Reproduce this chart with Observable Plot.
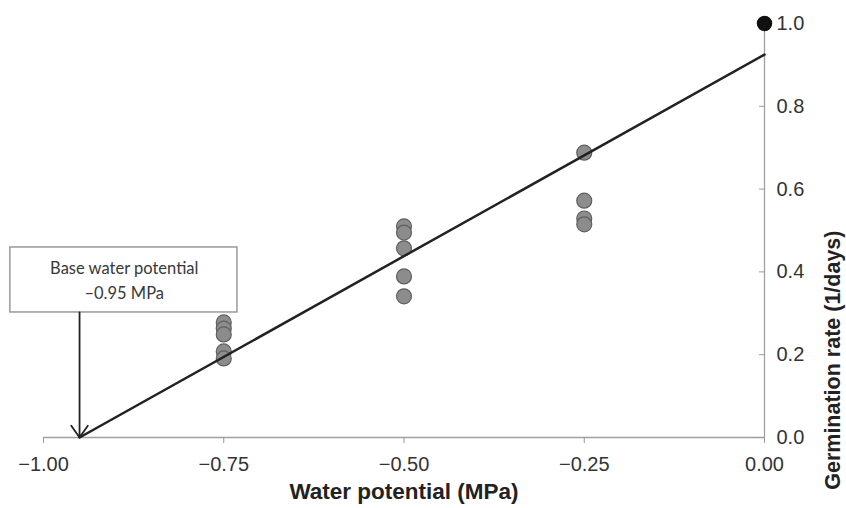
<!DOCTYPE html>
<html>
<head>
<meta charset="utf-8">
<script src="https://cdn.jsdelivr.net/npm/d3@7"></script>
<script src="https://cdn.jsdelivr.net/npm/@observablehq/plot@0.6"></script>
<style>
  html, body { margin: 0; padding: 0; background: #fff; }
  #chart { width: 846px; height: 508px; }
</style>
</head>
<body>
<div id="chart"></div>
<script>
// Observed germination rates (1/days) at each water potential (MPa)
const potentials = [-0.75, -0.75, -0.75, -0.75, -0.75,
                    -0.5, -0.5, -0.5, -0.5, -0.5,
                    -0.25, -0.25, -0.25, -0.25];
const rates = [0.278, 0.263, 0.249, 0.208, 0.191,
               0.51, 0.495, 0.457, 0.389, 0.341,
               0.688, 0.572, 0.529, 0.515];
// Control point (0 MPa)
const controlPotential = [0];
const controlRate = [1.0];
// Fitted line endpoints
const fitPotential = [-0.95, 0];
const fitRate = [0, 0.925];
// Base water potential annotation
const baseWP = -0.95;
const boxX = [-1.046, -0.731];
const boxY = [0.302, 0.459];
const annotationLines = ["Base water potential", "–0.95 MPa"];
const annotationY = [0.407, 0.347];
// Axes
const xTicks = [-1, -0.75, -0.5, -0.25, 0];
const yTicks = [0, 0.2, 0.4, 0.6, 0.8, 1.0];
const xLabel = "Water potential (MPa)";
const yLabel = "Germination rate (1/days)";

const points = potentials.map((p, i) => ({p, r: rates[i]}));
const control = controlPotential.map((p, i) => ({p, r: controlRate[i]}));
const fit = fitPotential.map((p, i) => ({p, r: fitRate[i]}));

const sans = "'Liberation Sans', Arial, Helvetica, sans-serif";

const chart = Plot.plot({
  width: 846,
  height: 508,
  marginLeft: 43,
  marginRight: 82,
  marginTop: 23,
  marginBottom: 71,
  x: {domain: [-1, 0]},
  y: {domain: [0, 1]},
  style: {fontFamily: sans, fontSize: "20px", color: "#333", background: "#fff"},
  marks: [
    Plot.ruleY([0], {stroke: "#a0a0a0", strokeWidth: 1.3}),
    Plot.ruleX([0], {stroke: "#a0a0a0", strokeWidth: 1.3}),
    Plot.axisX({ticks: xTicks, tickSize: 6, tickPadding: 13, stroke: "#999", fill: "#333",
      tickFormat: d3.format(".2f"), label: null, fontSize: 20, fontFamily: sans}),
    Plot.axisY({anchor: "right", ticks: yTicks, tickSize: -6, tickPadding: 18, stroke: "#999", fill: "#333",
      tickFormat: d3.format(".1f"), label: null, fontSize: 20, fontFamily: sans}),
    Plot.text([xLabel], {frameAnchor: "bottom", dy: 61, fontWeight: "bold", fontSize: 22.5, fill: "#222", fontFamily: sans}),
    Plot.text([yLabel], {frameAnchor: "right", dx: 69, rotate: -90, fontWeight: "bold", fontSize: 21.5, fill: "#222", fontFamily: sans}),
    Plot.rect([{}], {x1: boxX[0], x2: boxX[1], y1: boxY[0], y2: boxY[1], fill: "#fff", stroke: "#999", strokeWidth: 1.5}),
    Plot.text(annotationLines, {x: -0.888, y: (d, i) => annotationY[i], fontFamily: "Lato, 'Open Sans', sans-serif",
      fontSize: 16.5, fill: "#383838"}),
    Plot.arrow([{}], {x1: baseWP, x2: baseWP, y1: boxY[0], y2: 0, stroke: "#222", strokeWidth: 1.8,
      headLength: 12, headAngle: 70}),
    Plot.dot(points, {x: "p", y: "r", r: 7.5, fill: "#8c8c8c", stroke: "#5f5f5f", strokeWidth: 1.2}),
    Plot.line(fit, {x: "p", y: "r", stroke: "#222", strokeWidth: 2.5}),
    Plot.dot(control, {x: "p", y: "r", r: 7, fill: "#111", stroke: "#111"})
  ]
});
document.getElementById("chart").appendChild(chart);
</script>
</body>
</html>
